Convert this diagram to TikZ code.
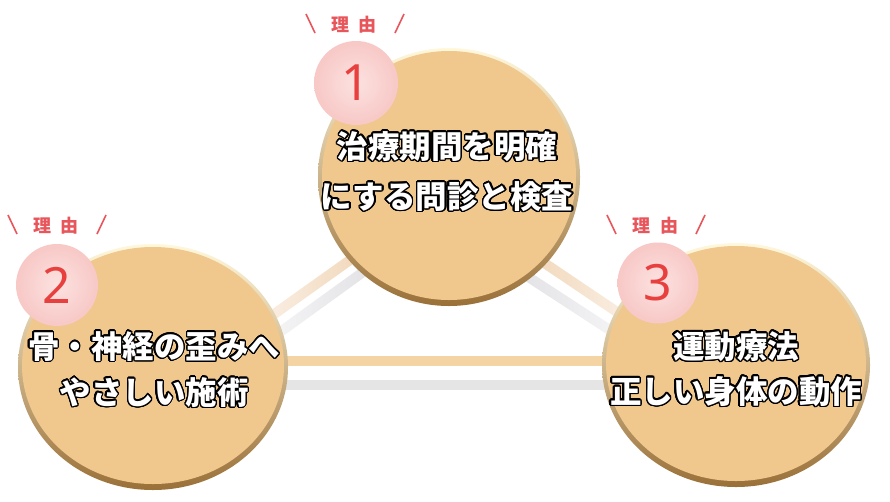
\documentclass[tikz,border=0pt]{standalone}
\usepackage{fontspec}
\usepackage{contour}
\usetikzlibrary{shapes.geometric,calc,backgrounds}
\newfontfamily\jp{Noto Sans CJK JP}
\newfontfamily\numfont{Noto Sans}
\definecolor{body}{HTML}{F0C78D}
\definecolor{rimtop}{HTML}{FFF8DC}
\definecolor{rimmid}{HTML}{E6C086}
\definecolor{rimbot}{HTML}{9A7038}
\definecolor{pinkin}{HTML}{FCE2E0}
\definecolor{pinkout}{HTML}{F7C8C6}
\definecolor{numred}{HTML}{E8403F}
\definecolor{labred}{HTML}{E8555A}
\definecolor{barorange}{HTML}{F5D4A3}
\definecolor{bargray}{HTML}{E5E5E6}
\definecolor{dgorange}{HTML}{F1D7B9}
\definecolor{lgorange}{HTML}{FAEFE4}
\definecolor{dggray}{HTML}{E2E2E6}
\definecolor{lggray}{HTML}{F5F5F6}
\contourlength{1.4pt}
\contournumber{24}
\newcommand\shadebar[4]{\shade[left color=#3,right color=#4]
  ($#1!5pt!90:#2$) -- ($#1!5pt!-90:#2$) -- ($#2!5pt!90:#1$) -- ($#2!5pt!-90:#1$) -- cycle;}
\tikzset{
  ball/.style n args={2}{ellipse, inner sep=0pt, outer sep=0pt,
    top color=rimtop, middle color=rimmid, bottom color=rimbot,
    minimum width=#1, minimum height=#2,
    path picture={\fill[body] ($(path picture bounding box.center)+(0,-1.5)$)
      ellipse [x radius=#1/2-4, y radius=#2/2-4.5];}},
  badge/.style={circle, inner sep=0pt, minimum size=#1, inner color=pinkin, outer color=pinkout,
    text=numred, font=\numfont\fontsize{50}{50}\selectfont},
  caption/.style={align=center, text=white, font=\jp\bfseries\fontsize{31.5}{#1}\selectfont},
  labtext/.style={text=labred, font=\jp\bfseries\fontsize{18}{18}\selectfont, inner sep=0pt},
  slash/.style={draw=labred, line width=1.6pt},
  hbar/.style={line width=10pt}
}
\begin{document}
\begin{tikzpicture}[x=1pt,y=-1pt]
\useasboundingbox (0,0) rectangle (890,501);
% circles
\node[ball={262}{258}] (c1) at (449,177) {};
\node[ball={270}{246}] (c2) at (153,367) {};
\node[ball={268}{244}] (c3) at (736,365) {};
% connectors (behind)
\begin{scope}[on background layer]
\fill[white] (0,0) rectangle (890,501);
\coordinate (a1) at ($(c2)+(111.8,-46.3)$);
\coordinate (b1) at ($(c1)+(-86.8,74.3)$);
\coordinate (a2) at ($(c2)+(120.2,-30)$);
\coordinate (b2) at ($(c1)+(-76.2,88)$);
\coordinate (a3) at ($(c1)+(81,76.3)$);
\coordinate (b3) at ($(c3)+(-109,-46.3)$);
\coordinate (a4) at ($(c1)+(67.7,92.4)$);
\coordinate (b4) at ($(c3)+(-117.7,-29.4)$);
\shadebar{(a1)}{(b1)}{lgorange}{dgorange}
\shadebar{(a2)}{(b2)}{lggray}{dggray}
\shadebar{(a3)}{(b3)}{dgorange}{lgorange}
\shadebar{(a4)}{(b4)}{dggray}{lggray}
\draw[hbar, barorange] ($(c2)+(100,-6)$) -- ($(c3)+(-100,-4)$);
\draw[hbar, bargray] ($(c2)+(100,18)$) -- ($(c3)+(-100,20)$);
\end{scope}
% badges
\node[badge=84] (p1) at (356,83) {1};
\node[badge=82] (p2) at (57,285) {2};
\node[badge=81] (p3) at (658,283) {3};
% reason labels
\node[labtext] (l1) at (354,25) {理\hspace{10pt}由};
\node[labtext] (l2) at (56,226) {理\hspace{10pt}由};
\node[labtext] (l3) at (655,226) {理\hspace{10pt}由};
\foreach \l in {l1,l2,l3}{
  \draw[slash] ($(\l)+(-48,-11)$) -- ($(\l)+(-39,8)$);
  \draw[slash] ($(\l)+(50,-11)$) -- ($(\l)+(41,8)$);
}
% captions
\node[caption=50] (t1) at ($(c1)+(-2,-5)$) {\contour{black}{治療期間を明確}\\\contour{black}{にする問診と検査}};
\node[caption=46] (t2) at ($(c2)+(1,3)$) {\contour{black}{骨・神経の歪みへ}\\\contour{black}{やさしい施術}};
\node[caption=45] (t3) at ($(c3)+(0,4.5)$) {\contour{black}{運動療法}\\\contour{black}{正しい身体の動作}};
\end{tikzpicture}
\end{document}
